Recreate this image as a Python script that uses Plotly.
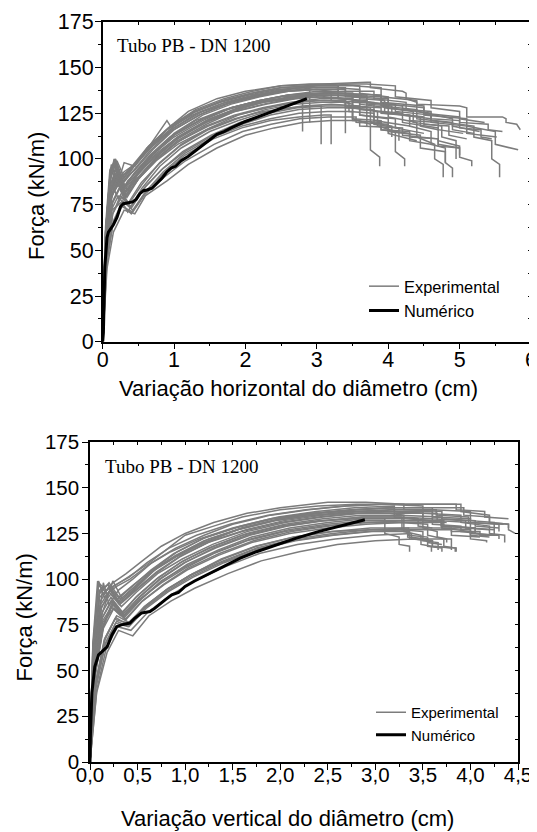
import plotly.graph_objects as go

# ---------------- data: top panel (horizontal diameter change) ----------------
TOP_NUM_X = [0, 0.01, 0.03, 0.06, 0.08, 0.12, 0.15, 0.2, 0.25, 0.29, 0.35, 0.42, 0.47, 0.52, 0.57, 0.62, 0.69, 0.76, 0.83, 0.9, 0.96, 1.02, 1.1, 1.2, 1.3, 1.4, 1.5, 1.6, 1.7, 1.8, 2.0, 2.2, 2.4, 2.6, 2.86]
TOP_NUM_Y = [0, 5, 41, 57, 60, 62, 64, 68, 74, 75.5, 76, 76.5, 78, 81, 82.6, 83, 84, 86.5, 89.5, 93, 95, 96, 99, 101.5, 104.5, 108, 111, 113.5, 115, 117, 120.5, 123.5, 126.5, 129.5, 133]

T1_X = [0, 0.04, 0.1, 0.16, 0.25, 0.4, 0.6, 0.9, 0.95, 1.2, 1.6, 2.0, 2.5, 3.0, 3.5, 3.7, 3.75, 3.75, 4.2, 4.25, 4.25, 4.4, 4.4, 5.0, 5.1, 5.1, 5.6, 5.65, 5.65, 5.8, 5.85]
T1_Y = [0, 55, 88, 100, 90, 95, 104, 121, 118, 126, 133, 137, 140, 141, 142, 142, 142, 139, 137, 136, 133, 131, 130, 129, 128, 123, 123, 122, 120, 119, 116]
T2_X = [0, 0.05, 0.12, 0.2, 0.3, 0.45, 0.7, 1.0, 1.3, 1.7, 2.1, 2.5, 2.9, 3.3, 3.3, 3.9, 3.9, 4.5, 4.5, 5.1, 5.1, 5.5, 5.5, 5.82]
T2_Y = [0, 62, 95, 85, 98, 96, 108, 118, 126, 132, 136, 139, 140, 140, 136, 135, 131, 129, 124, 122, 118, 115, 108, 105]
T3_X = [0, 0.03, 0.1, 0.18, 0.3, 0.45, 0.7, 1.0, 1.4, 1.8, 2.2, 2.6, 3.0, 3.4, 3.4, 4.0, 4.0, 4.6, 4.6, 5.2, 5.2, 5.45, 5.45, 5.56, 5.56]
T3_Y = [0, 50, 80, 96, 80, 90, 102, 114, 124, 130, 134, 137, 138, 138, 134, 133, 128, 125, 121, 118, 112, 110, 100, 97, 90]
T4_X = [0, 0.05, 0.13, 0.22, 0.35, 0.5, 0.75, 1.0, 1.4, 1.8, 2.2, 2.6, 3.0, 3.3, 3.3, 3.8, 3.8, 4.3, 4.3, 4.6, 4.6, 4.8, 4.8, 4.9, 4.9]
T4_Y = [0, 58, 86, 78, 88, 94, 104, 112, 121, 128, 132, 135, 137, 137, 133, 131, 126, 124, 118, 115, 108, 106, 98, 95, 90]
T5_X = [0, 0.04, 0.1, 0.2, 0.3, 0.5, 0.8, 1.1, 1.5, 1.9, 2.3, 2.7, 3.1, 3.6, 3.6, 4.0, 4.0, 4.4, 4.4, 4.65, 4.65, 4.77, 4.77]
T5_Y = [0, 52, 75, 92, 82, 90, 103, 113, 122, 128, 132, 134, 135, 134, 130, 128, 123, 120, 112, 108, 100, 97, 90]
T6_X = [0, 0.05, 0.12, 0.2, 0.3, 0.45, 0.7, 1.0, 1.4, 1.8, 2.2, 2.6, 3.0, 3.2, 3.2, 3.5, 3.5, 3.75, 3.75, 3.88, 3.88]
T6_Y = [0, 65, 97, 88, 93, 97, 107, 117, 126, 131, 135, 137, 138, 137, 132, 130, 122, 119, 105, 101, 96]
T7_X = [0, 0.04, 0.11, 0.2, 0.32, 0.5, 0.75, 1.05, 1.45, 1.85, 2.3, 2.7, 3.1, 3.5, 3.5, 3.85, 3.85, 4.1, 4.1, 4.23, 4.23]
T7_Y = [0, 55, 82, 90, 80, 92, 103, 112, 120, 126, 130, 133, 134, 133, 128, 126, 118, 115, 104, 100, 96]
T8_X = [0, 0.05, 0.14, 0.24, 0.36, 0.55, 0.8, 1.1, 1.5, 1.9, 2.3, 2.7, 3.1, 3.6, 3.6, 4.2, 4.2, 4.7, 4.7, 5.0, 5.0, 5.17, 5.17]
T8_Y = [0, 48, 76, 84, 75, 86, 98, 108, 117, 124, 128, 131, 132, 131, 127, 125, 120, 117, 110, 107, 101, 99, 96]
T9_X = [0, 0.04, 0.1, 0.18, 0.28, 0.45, 0.7, 1.0, 1.4, 1.8, 2.2, 2.6, 3.0, 3.5, 3.9, 3.9, 4.4, 4.4, 4.9, 4.9, 5.28]
T9_Y = [0, 60, 90, 99, 88, 94, 105, 116, 125, 131, 135, 138, 140, 140, 139, 134, 132, 126, 122, 118, 115]
T10_X = [0, 0.05, 0.12, 0.2, 0.3, 0.5, 0.75, 1.05, 1.45, 1.85, 2.25, 2.65, 3.05, 3.5, 3.5, 4.1, 4.1, 4.6, 4.6, 5.1, 5.1, 5.52]
T10_Y = [0, 50, 78, 88, 78, 89, 100, 110, 119, 126, 130, 133, 135, 135, 131, 130, 126, 124, 120, 118, 114, 112]
T11_X = [0, 0.04, 0.12, 0.22, 0.35, 0.55, 0.8, 1.1, 1.5, 1.9, 2.3, 2.8, 3.2, 3.6, 3.6, 4.0, 4.0, 4.4]
T11_Y = [0, 45, 72, 80, 71, 84, 96, 106, 115, 121, 126, 129, 130, 129, 124, 122, 114, 110]
T12_X = [0, 0.05, 0.13, 0.25, 0.4, 0.6, 0.85, 1.15, 1.55, 1.95, 2.35, 2.75, 3.1, 3.2, 3.2]
T12_Y = [0, 50, 72, 76, 70, 82, 92, 102, 111, 117, 121, 123, 124, 124, 108]
T13_X = [0, 0.06, 0.15, 0.3, 0.45, 0.6, 0.9, 1.2, 1.6, 2.0, 2.4, 2.8, 3.2, 3.6, 3.6, 4.2, 4.2, 4.7, 4.7, 5.0]
T13_Y = [0, 40, 60, 72, 70, 80, 88, 97, 106, 113, 117, 120, 121, 121, 118, 117, 113, 111, 108, 106]
T14_X = [0, 0.04, 0.1, 0.17, 0.27, 0.42, 0.65, 0.95, 1.35, 1.75, 2.15, 2.55, 2.95, 3.4, 3.4, 3.9, 3.9, 4.4, 4.4, 4.9, 4.9, 5.2]
T14_Y = [0, 58, 88, 97, 86, 93, 104, 115, 124, 130, 134, 137, 139, 139, 135, 134, 129, 127, 122, 120, 116, 114]
T15_X = [0, 0.05, 0.12, 0.2, 0.32, 0.5, 0.75, 1.05, 1.45, 1.85, 2.25, 2.7, 3.1, 3.5, 3.5, 3.95, 3.95, 4.45, 4.45, 4.7]
T15_Y = [0, 52, 80, 87, 79, 90, 101, 111, 120, 127, 131, 134, 136, 136, 132, 130, 125, 123, 118, 116]
T16_X = [0, 0.04, 0.1, 0.18, 0.3, 0.48, 0.72, 1.0, 1.4, 1.8, 2.2, 2.6, 3.0, 3.3, 3.7, 3.7, 4.2, 4.2, 4.6]
T16_Y = [0, 56, 85, 94, 84, 92, 103, 113, 122, 128, 132, 135, 136, 136, 135, 131, 129, 124, 122]
T17_X = [0, 0.05, 0.14, 0.25, 0.4, 0.6, 0.85, 1.15, 1.55, 1.95, 2.35, 2.75, 3.15, 3.6, 3.6, 4.1, 4.1, 4.5]
T17_Y = [0, 46, 70, 80, 73, 85, 95, 104, 113, 119, 124, 127, 128, 128, 124, 122, 117, 114]
T18_X = [0, 0.05, 0.12, 0.2, 0.3, 0.45, 0.68, 0.95, 1.3, 1.7, 2.1, 2.5, 2.9, 3.3, 3.6, 3.6, 4.0, 4.0, 4.5, 4.5, 5.0, 5.0, 5.4, 5.4, 5.6]
T18_Y = [0, 62, 92, 99, 90, 97, 108, 118, 127, 133, 137, 140, 141, 141, 140, 136, 134, 130, 128, 125, 123, 120, 119, 116, 115]
T19_X = [0, 0.04, 0.1, 0.2, 0.3, 0.5, 0.75, 1.05, 1.45, 1.85, 2.25, 2.65, 3.0, 3.4, 3.4, 3.8, 3.8, 4.3]
T19_Y = [0, 54, 84, 90, 83, 92, 102, 112, 121, 127, 131, 133, 134, 133, 128, 127, 121, 118]
T20_X = [0, 0.06, 0.15, 0.28, 0.42, 0.6, 0.85, 1.15, 1.55, 1.95, 2.35, 2.75, 3.15, 3.5, 3.5, 3.9, 3.9, 4.3, 4.3, 4.6]
T20_Y = [0, 44, 66, 77, 72, 82, 93, 103, 112, 118, 122, 125, 126, 126, 122, 121, 116, 114, 110, 108]
T21_X = [0, 0.05, 0.12, 0.22, 0.35, 0.52, 0.78, 1.08, 1.48, 1.88, 2.28, 2.68, 3.0, 3.4, 3.4]
T21_Y = [0, 58, 84, 92, 83, 91, 101, 110, 118, 124, 128, 131, 132, 132, 114]
T22_X = [0, 0.04, 0.1, 0.18, 0.28, 0.42, 0.62, 0.9, 1.25, 1.65, 2.05, 2.45, 2.9, 2.9]
T22_Y = [0, 60, 88, 98, 87, 95, 106, 116, 124, 130, 134, 137, 138, 120]
T23_X = [0, 0.05, 0.13, 0.22, 0.34, 0.5, 0.75, 1.05, 1.45, 1.85, 2.25, 2.65, 3.0, 3.06, 3.06]
T23_Y = [0, 54, 80, 86, 79, 89, 99, 108, 116, 122, 126, 128, 129, 129, 108]
T24_X = [0, 0.04, 0.11, 0.2, 0.3, 0.46, 0.7, 1.0, 1.4, 1.8, 2.2, 2.6, 2.95, 3.3, 3.5, 3.5, 3.9, 3.9, 4.3, 4.3, 4.7, 4.7, 5.0, 5.0]
T24_Y = [0, 57, 86, 93, 85, 93, 103, 113, 122, 128, 132, 135, 136, 136, 136, 121, 120, 116, 115, 112, 111, 107, 106, 102]
T25_X = [0, 0.05, 0.11, 0.19, 0.29, 0.44, 0.66, 0.94, 1.3, 1.7, 2.1, 2.5, 2.9, 3.3, 3.7, 3.7, 4.05, 4.05, 4.5, 4.5, 4.85, 4.85, 5.1]
T25_Y = [0, 56, 83, 91, 84, 92, 102, 112, 121, 127, 131, 134, 135, 135, 134, 130, 129, 125, 123, 119, 118, 113, 111]
T26_X = [0, 0.04, 0.1, 0.16, 0.26, 0.4, 0.62, 0.9, 1.25, 1.65, 2.05, 2.45, 2.85, 3.25, 3.6, 3.6, 3.95, 3.95, 4.35, 4.35, 4.75, 4.75, 4.95, 4.95]
T26_Y = [0, 60, 90, 97, 88, 95, 105, 116, 125, 131, 135, 138, 139, 139, 138, 133, 132, 128, 126, 120, 118, 112, 110, 100]
T27_X = [0, 0.05, 0.13, 0.23, 0.36, 0.54, 0.78, 1.08, 1.48, 1.88, 2.28, 2.68, 3.08, 3.45, 3.45, 3.8, 3.8, 4.15, 4.15]
T27_Y = [0, 50, 76, 84, 76, 87, 97, 107, 116, 122, 127, 130, 131, 131, 126, 125, 119, 117, 110]
T28_X = [0, 0.04, 0.1, 0.18, 0.27, 0.43, 0.64, 0.92, 1.28, 1.68, 2.08, 2.48, 2.88, 3.3, 3.3, 3.7, 3.7]
T28_Y = [0, 63, 94, 100, 90, 97, 107, 117, 126, 132, 136, 139, 140, 140, 133, 132, 118]
T29_X = [0, 0.06, 0.14, 0.26, 0.4, 0.58, 0.82, 1.12, 1.52, 1.92, 2.32, 2.72, 3.12, 3.5, 3.9, 3.9, 4.3, 4.3, 4.7, 4.7, 5.05]
T29_Y = [0, 46, 70, 79, 74, 84, 94, 104, 113, 120, 125, 128, 129, 129, 128, 125, 124, 121, 120, 116, 114]
T30_X = [0, 0.05, 0.12, 0.21, 0.32, 0.48, 0.72, 1.02, 1.42, 1.82, 2.22, 2.62, 3.02, 3.4, 3.8, 3.8, 4.25, 4.25, 4.6, 4.6, 5.0, 5.0, 5.3, 5.3, 5.45]
T30_Y = [0, 54, 82, 90, 82, 91, 101, 111, 120, 126, 131, 134, 136, 137, 137, 133, 131, 127, 126, 122, 121, 117, 116, 112, 111]
T31_X = [0, 0.05, 0.12, 0.2, 0.31, 0.47, 0.7, 0.98, 1.35, 1.75, 2.15, 2.55, 2.8, 2.8]
T31_Y = [0, 55, 84, 94, 85, 93, 103, 113, 121, 127, 131, 133, 134, 115]
T32_X = [0, 0.05, 0.14, 0.27, 0.42, 0.6, 0.86, 1.16, 1.56, 1.96, 2.36, 2.76, 3.16, 3.55, 3.55, 4.0, 4.0, 4.45, 4.45, 4.8, 4.8]
T32_Y = [0, 42, 64, 74, 71, 81, 90, 99, 108, 115, 119, 122, 123, 123, 120, 119, 115, 113, 106, 104, 98]
T33_X = [0, 0.04, 0.1, 0.17, 0.28, 0.44, 0.66, 0.96, 1.32, 1.72, 2.12, 2.52, 2.92, 3.3, 3.7, 4.1, 4.1, 4.6, 4.6, 5.0, 5.0, 5.35]
T33_Y = [0, 59, 89, 98, 89, 96, 106, 116, 125, 131, 135, 138, 140, 141, 141, 140, 134, 132, 128, 126, 122, 120]
T34_X = [0, 0.05, 0.12, 0.22, 0.33, 0.5, 0.74, 1.04, 1.44, 1.84, 2.24, 2.64, 3.04, 3.4, 3.4, 3.75, 3.75, 4.05, 4.05]
T34_Y = [0, 51, 79, 87, 80, 89, 99, 109, 118, 124, 128, 131, 133, 133, 129, 128, 120, 118, 112]

# ---------------- data: bottom panel (vertical diameter change) ----------------
BOT_NUM_X = [0, 0.005, 0.02, 0.05, 0.09, 0.14, 0.18, 0.23, 0.28, 0.33, 0.42, 0.47, 0.54, 0.63, 0.68, 0.79, 0.86, 0.93, 1.0, 1.1, 1.23, 1.4, 1.58, 1.75, 1.96, 2.17, 2.4, 2.65, 2.89]
BOT_NUM_Y = [0, 16, 38, 52, 58.6, 61.3, 63, 69.5, 74, 75, 76, 78.6, 81.4, 82.3, 84, 88.7, 91.4, 92.7, 96, 99, 102.4, 107, 111.5, 115, 118.8, 122.4, 126, 129.5, 132.5]

B1_X = [0, 0.03, 0.09, 0.15, 0.25, 0.4, 0.6, 0.8, 1.0, 1.3, 1.6, 2.0, 2.4, 2.8, 3.2, 3.6, 3.9, 3.9, 4.2, 4.2, 4.4, 4.4, 4.47]
B1_Y = [0, 60, 99, 90, 96, 101, 108, 116, 124, 129, 134, 138, 140, 141, 141, 141, 141, 137, 135, 131, 130, 127, 125]
B2_X = [0, 0.04, 0.14, 0.2, 0.3, 0.45, 0.65, 0.9, 1.2, 1.5, 1.9, 2.3, 2.7, 3.1, 3.5, 3.5, 3.9, 3.9, 4.2, 4.2, 4.36, 4.36]
B2_Y = [0, 55, 98, 86, 94, 100, 109, 117, 124, 130, 135, 138, 140, 141, 140, 136, 135, 131, 129, 125, 124, 120]
B3_X = [0, 0.05, 0.12, 0.24, 0.35, 0.5, 0.7, 0.95, 1.25, 1.6, 2.0, 2.4, 2.8, 3.2, 3.6, 3.6, 4.0, 4.0, 4.35]
B3_Y = [0, 50, 80, 99, 88, 96, 106, 114, 121, 128, 133, 136, 138, 139, 139, 134, 133, 131, 130]
B4_X = [0, 0.05, 0.14, 0.22, 0.32, 0.48, 0.7, 0.95, 1.25, 1.6, 2.0, 2.4, 2.8, 3.1, 3.1, 3.25, 3.25, 3.36, 3.36]
B4_Y = [0, 45, 75, 85, 80, 90, 100, 109, 117, 124, 129, 132, 133, 133, 125, 123, 119, 118, 115]
B5_X = [0, 0.04, 0.1, 0.2, 0.3, 0.45, 0.65, 0.9, 1.2, 1.55, 1.95, 2.35, 2.75, 3.15, 3.3, 3.3, 3.48, 3.48, 3.59, 3.59]
B5_Y = [0, 58, 90, 95, 87, 94, 104, 112, 120, 127, 132, 135, 136, 136, 135, 126, 124, 119, 118, 115]
B6_X = [0, 0.05, 0.12, 0.24, 0.36, 0.52, 0.75, 1.0, 1.3, 1.65, 2.05, 2.45, 2.85, 3.25, 3.55, 3.55, 3.72, 3.72, 3.84, 3.84]
B6_Y = [0, 48, 72, 88, 80, 89, 98, 106, 114, 121, 126, 129, 131, 131, 130, 124, 122, 118, 117, 115]
B7_X = [0, 0.03, 0.09, 0.18, 0.28, 0.42, 0.62, 0.85, 1.15, 1.5, 1.9, 2.3, 2.7, 3.1, 3.5, 3.5, 3.65, 3.65, 3.75, 3.75]
B7_Y = [0, 62, 97, 92, 96, 100, 108, 115, 122, 128, 133, 136, 137, 137, 136, 128, 126, 123, 122, 120]
B8_X = [0, 0.05, 0.13, 0.22, 0.34, 0.5, 0.72, 0.98, 1.3, 1.65, 2.05, 2.45, 2.85, 3.25, 3.7, 3.7, 4.0, 4.0, 4.17, 4.17]
B8_Y = [0, 52, 82, 90, 82, 91, 101, 110, 118, 125, 130, 133, 135, 135, 134, 128, 126, 122, 121, 120]
B9_X = [0, 0.06, 0.15, 0.26, 0.4, 0.58, 0.8, 1.05, 1.4, 1.75, 2.15, 2.55, 2.95, 3.35, 3.8, 3.8, 4.1, 4.1, 4.3, 4.3]
B9_Y = [0, 42, 66, 78, 76, 85, 94, 102, 110, 117, 122, 125, 127, 128, 128, 126, 126, 124, 124, 122]
B10_X = [0, 0.07, 0.18, 0.3, 0.45, 0.62, 0.85, 1.1, 1.45, 1.8, 2.2, 2.6, 3.0, 3.4, 3.8, 3.8]
B10_Y = [0, 38, 60, 72, 69, 80, 88, 95, 103, 110, 115, 119, 121, 122, 122, 116]
B11_X = [0, 0.04, 0.11, 0.2, 0.3, 0.45, 0.66, 0.9, 1.2, 1.55, 1.95, 2.35, 2.75, 3.15, 3.6, 4.0, 4.0, 4.25, 4.25]
B11_Y = [0, 56, 88, 96, 88, 95, 105, 113, 121, 127, 132, 135, 137, 138, 138, 137, 132, 131, 127]
B12_X = [0, 0.05, 0.13, 0.25, 0.38, 0.55, 0.78, 1.02, 1.35, 1.7, 2.1, 2.5, 2.9, 3.3, 3.7, 3.7, 4.0, 4.0, 4.3]
B12_Y = [0, 50, 76, 84, 78, 88, 97, 105, 113, 120, 125, 128, 130, 131, 131, 128, 127, 125, 124]
B13_X = [0, 0.04, 0.1, 0.2, 0.32, 0.48, 0.7, 0.95, 1.25, 1.6, 2.0, 2.4, 2.8, 3.2, 3.2, 3.45, 3.45, 3.6]
B13_Y = [0, 58, 92, 98, 89, 96, 106, 114, 122, 128, 133, 136, 138, 139, 134, 133, 129, 128]
B14_X = [0, 0.05, 0.12, 0.22, 0.35, 0.52, 0.74, 1.0, 1.3, 1.65, 2.05, 2.45, 2.85, 3.25, 3.6, 3.6, 3.9, 3.9, 4.1]
B14_Y = [0, 50, 78, 88, 80, 90, 100, 109, 117, 124, 129, 132, 134, 134, 133, 130, 129, 126, 125]
B15_X = [0, 0.06, 0.16, 0.28, 0.42, 0.6, 0.82, 1.08, 1.4, 1.75, 2.15, 2.55, 2.95, 3.35, 3.35, 3.55, 3.55, 3.7]
B15_Y = [0, 44, 68, 80, 76, 86, 95, 103, 111, 118, 123, 126, 128, 128, 124, 123, 120, 119]
B16_X = [0, 0.03, 0.08, 0.14, 0.24, 0.38, 0.55, 0.75, 1.0, 1.3, 1.65, 2.0, 2.5, 2.9, 3.3, 3.3, 3.7, 3.7, 4.05, 4.05, 4.3]
B16_Y = [0, 65, 99, 92, 98, 103, 110, 118, 125, 131, 136, 139, 142, 142, 141, 138, 137, 133, 132, 129, 128]
B17_X = [0, 0.05, 0.14, 0.24, 0.36, 0.54, 0.76, 1.02, 1.35, 1.7, 2.1, 2.5, 2.9, 3.3, 3.7, 3.7, 4.0, 4.0, 4.2]
B17_Y = [0, 48, 74, 86, 79, 89, 99, 108, 116, 123, 128, 131, 133, 133, 132, 129, 128, 124, 123]
B18_X = [0, 0.04, 0.1, 0.19, 0.3, 0.46, 0.68, 0.92, 1.22, 1.58, 1.98, 2.38, 2.78, 3.2, 3.2, 3.5, 3.5, 3.75]
B18_Y = [0, 60, 94, 97, 90, 97, 106, 115, 123, 129, 134, 137, 139, 140, 137, 136, 132, 131]
B19_X = [0, 0.06, 0.16, 0.27, 0.4, 0.57, 0.8, 1.05, 1.38, 1.72, 2.12, 2.52, 2.92, 3.32, 3.8, 3.8, 4.1]
B19_Y = [0, 40, 64, 76, 74, 84, 93, 101, 109, 116, 121, 124, 126, 127, 127, 124, 123]
B20_X = [0, 0.05, 0.12, 0.2, 0.31, 0.47, 0.69, 0.94, 1.24, 1.6, 2.0, 2.4, 2.8, 3.2, 3.6, 3.6, 3.95, 3.95, 4.2]
B20_Y = [0, 54, 84, 93, 86, 93, 103, 112, 120, 126, 131, 134, 136, 137, 137, 133, 132, 128, 127]
B21_X = [0, 0.04, 0.11, 0.21, 0.32, 0.48, 0.7, 0.96, 1.28, 1.64, 2.04, 2.44, 2.84, 3.24, 3.64, 3.64, 3.98, 3.98, 4.3, 4.3]
B21_Y = [0, 55, 86, 94, 87, 94, 104, 113, 121, 127, 132, 135, 137, 138, 138, 135, 134, 131, 130, 126]
B22_X = [0, 0.06, 0.15, 0.27, 0.4, 0.57, 0.8, 1.05, 1.38, 1.74, 2.14, 2.54, 2.94, 3.34, 3.34, 3.55, 3.55, 3.7, 3.7]
B22_Y = [0, 43, 67, 79, 75, 85, 94, 102, 111, 118, 123, 126, 127, 127, 123, 122, 118, 117, 115]
B23_X = [0, 0.03, 0.09, 0.17, 0.27, 0.41, 0.6, 0.83, 1.12, 1.47, 1.87, 2.27, 2.67, 3.07, 3.47, 3.85, 3.85, 4.15, 4.15, 4.4]
B23_Y = [0, 63, 98, 94, 97, 101, 109, 117, 124, 130, 135, 138, 140, 141, 141, 141, 138, 137, 134, 133]
B24_X = [0, 0.05, 0.13, 0.23, 0.35, 0.51, 0.73, 0.99, 1.32, 1.68, 2.08, 2.48, 2.88, 3.28, 3.28, 3.5, 3.5, 3.66, 3.66]
B24_Y = [0, 51, 79, 88, 81, 90, 100, 109, 117, 124, 129, 132, 134, 134, 127, 126, 121, 120, 116]
B25_X = [0, 0.05, 0.14, 0.25, 0.37, 0.55, 0.77, 1.03, 1.36, 1.72, 2.12, 2.52, 2.92, 3.32, 3.72, 3.72, 4.05, 4.05, 4.25]
B25_Y = [0, 47, 73, 84, 78, 88, 97, 106, 114, 121, 126, 129, 131, 132, 132, 129, 128, 125, 124]
B26_X = [0, 0.04, 0.12, 0.22, 0.33, 0.49, 0.71, 0.97, 1.29, 1.65, 2.05, 2.45, 2.85, 3.25, 3.65, 3.65, 4.0, 4.0, 4.25, 4.25]
B26_Y = [0, 53, 85, 92, 85, 93, 103, 111, 119, 126, 131, 134, 136, 136, 136, 132, 131, 128, 127, 124]
B27_X = [0, 0.07, 0.17, 0.29, 0.43, 0.61, 0.84, 1.1, 1.43, 1.78, 2.18, 2.58, 2.98, 3.38, 3.38, 3.6, 3.6, 3.8]
B27_Y = [0, 39, 62, 74, 72, 82, 91, 99, 107, 114, 119, 122, 124, 125, 122, 121, 118, 117]
B28_X = [0, 0.04, 0.1, 0.19, 0.29, 0.44, 0.64, 0.88, 1.18, 1.53, 1.93, 2.33, 2.73, 3.13, 3.53, 3.93, 3.93, 4.2, 4.2, 4.4, 4.4]
B28_Y = [0, 59, 93, 97, 89, 96, 105, 114, 122, 128, 133, 136, 138, 139, 139, 139, 135, 134, 131, 130, 128]
B29_X = [0, 0.05, 0.13, 0.24, 0.36, 0.53, 0.75, 1.01, 1.33, 1.69, 2.09, 2.49, 2.89, 3.29, 3.69, 3.69, 4.05, 4.05]
B29_Y = [0, 49, 77, 86, 80, 89, 99, 107, 115, 122, 127, 130, 132, 132, 132, 129, 128, 125]
B30_X = [0, 0.06, 0.16, 0.28, 0.41, 0.59, 0.82, 1.08, 1.41, 1.76, 2.16, 2.56, 2.96, 3.36, 3.36, 3.6, 3.6, 3.85, 3.85]
B30_Y = [0, 41, 65, 77, 74, 84, 93, 101, 109, 116, 121, 124, 126, 126, 122, 121, 118, 117, 115]

TOP_EXP = [(T1_X, T1_Y), (T2_X, T2_Y), (T3_X, T3_Y), (T4_X, T4_Y), (T5_X, T5_Y), (T6_X, T6_Y),
           (T7_X, T7_Y), (T8_X, T8_Y), (T9_X, T9_Y), (T10_X, T10_Y), (T11_X, T11_Y), (T12_X, T12_Y),
           (T13_X, T13_Y), (T14_X, T14_Y), (T15_X, T15_Y), (T16_X, T16_Y), (T17_X, T17_Y), (T18_X, T18_Y),
           (T19_X, T19_Y), (T20_X, T20_Y), (T21_X, T21_Y), (T22_X, T22_Y), (T23_X, T23_Y), (T24_X, T24_Y),
           (T25_X, T25_Y), (T26_X, T26_Y), (T27_X, T27_Y), (T28_X, T28_Y), (T29_X, T29_Y), (T30_X, T30_Y),
           (T31_X, T31_Y), (T32_X, T32_Y), (T33_X, T33_Y), (T34_X, T34_Y)]
BOT_EXP = [(B1_X, B1_Y), (B2_X, B2_Y), (B3_X, B3_Y), (B4_X, B4_Y), (B5_X, B5_Y), (B6_X, B6_Y),
           (B7_X, B7_Y), (B8_X, B8_Y), (B9_X, B9_Y), (B10_X, B10_Y), (B11_X, B11_Y), (B12_X, B12_Y),
           (B13_X, B13_Y), (B14_X, B14_Y), (B15_X, B15_Y), (B16_X, B16_Y), (B17_X, B17_Y), (B18_X, B18_Y),
           (B19_X, B19_Y), (B20_X, B20_Y), (B21_X, B21_Y), (B22_X, B22_Y), (B23_X, B23_Y), (B24_X, B24_Y),
           (B25_X, B25_Y), (B26_X, B26_Y), (B27_X, B27_Y), (B28_X, B28_Y), (B29_X, B29_Y), (B30_X, B30_Y)]

LABEL_EXP = "Experimental"
LABEL_NUM = "Numérico"
PANEL_NOTE = "Tubo PB - DN 1200"
Y_TITLE = "Força (kN/m)"
X_TITLE_TOP = "Variação horizontal do diâmetro (cm)"
X_TITLE_BOT = "Variação vertical do diâmetro (cm)"

# ---------------- layout helpers ----------------
# The page body has an 8px default margin, so the figure is offset by 8px;
# positions below are given in window pixels and converted to paper fractions.
OFF = 8
W, H = 537 - OFF, 832 - OFF
def fx(p):
    return (p - OFF) / W
def fy(p):
    return 1 - (p - OFF) / H

SANS = "Liberation Sans, Arial, sans-serif"
SERIF = "Liberation Serif, Times New Roman, serif"
GRAY = "#7c7c7c"

fig = go.Figure()

for i, (xs, ys) in enumerate(TOP_EXP):
    fig.add_trace(go.Scatter(x=xs, y=ys, mode="lines", line=dict(color=GRAY, width=1.5),
                             name=LABEL_EXP, showlegend=(i == 0), legend="legend",
                             xaxis="x", yaxis="y", hoverinfo="skip"))
fig.add_trace(go.Scatter(x=TOP_NUM_X, y=TOP_NUM_Y, mode="lines", line=dict(color="black", width=3),
                         name=LABEL_NUM, legend="legend", xaxis="x", yaxis="y"))

for i, (xs, ys) in enumerate(BOT_EXP):
    fig.add_trace(go.Scatter(x=xs, y=ys, mode="lines", line=dict(color=GRAY, width=1.5),
                             name=LABEL_EXP, showlegend=(i == 0), legend="legend2",
                             xaxis="x2", yaxis="y2", hoverinfo="skip"))
fig.add_trace(go.Scatter(x=BOT_NUM_X, y=BOT_NUM_Y, mode="lines", line=dict(color="black", width=3),
                         name=LABEL_NUM, legend="legend2", xaxis="x2", yaxis="y2"))

# empty traces so the mirrored (top / right) tick axes get drawn
for xa, ya in [("x3", "y"), ("x", "y3"), ("x4", "y2"), ("x2", "y4")]:
    fig.add_trace(go.Scatter(x=[], y=[], xaxis=xa, yaxis=ya, showlegend=False, hoverinfo="skip"))

def main_axis(domain, rng, dtick, minor, anchor, size, standoff, fmt=None):
    d = dict(domain=domain, range=rng, dtick=dtick, tick0=0, ticks="outside", ticklen=6,
             tickwidth=1.3, tickcolor="black",
             minor=dict(dtick=minor, ticks="outside", ticklen=3, tickwidth=1.2, tickcolor="black"),
             showline=True, linecolor="black", linewidth=1.5, showgrid=False, zeroline=False,
             tickfont=dict(family=SANS, size=size, color="black"), anchor=anchor,
             ticklabelstandoff=standoff, ticklabeloverflow="allow",
             automargin=False, fixedrange=True)
    if fmt:
        d["tickformat"] = fmt
    return d

def mirror_axis(over, anchor, side, rng, dtick):
    return dict(overlaying=over, anchor=anchor, side=side, range=rng, dtick=dtick, tick0=0,
                ticks="inside", ticklen=3, tickwidth=1.2, tickcolor="black", showticklabels=False,
                showline=True, linecolor="black", linewidth=1.5, showgrid=False, zeroline=False,
                automargin=False, fixedrange=True)

top_dx = [fx(102.7), fx(531)]
top_dy = [fy(341.7), fy(21.9)]
bot_dx = [fx(90), fx(518)]
bot_dy = [fy(762), fy(442)]

fig.update_layout(
    width=W, height=H, autosize=False,
    margin=dict(l=0, r=0, t=0, b=0, pad=0),
    paper_bgcolor="white", plot_bgcolor="white",
    separators=",.",
    xaxis=main_axis(top_dx, [0, 6], 1, 0.5, "y", 21.5, -8),
    yaxis=main_axis(top_dy, [0, 175], 25, 12.5, "x", 21.5, -3),
    xaxis2=main_axis(bot_dx, [0, 4.5], 0.5, 0.25, "y2", 20.5, -12, ".1f"),
    yaxis2=main_axis(bot_dy, [0, 175], 25, 12.5, "x2", 20.5, -1),
    xaxis3=mirror_axis("x", "y", "top", [0, 6], 0.5),
    yaxis3=mirror_axis("y", "x", "right", [0, 175], 12.5),
    xaxis4=mirror_axis("x2", "y2", "top", [0, 4.5], 0.25),
    yaxis4=mirror_axis("y2", "x2", "right", [0, 175], 12.5),
    legend=dict(x=fx(364), y=fy(269), xanchor="left", yanchor="top", bgcolor="rgba(0,0,0,0)",
                borderwidth=0, font=dict(family=SANS, size=16.4, color="black"), tracegroupgap=0),
    legend2=dict(x=fx(371), y=fy(696), xanchor="left", yanchor="top", bgcolor="rgba(0,0,0,0)",
                 borderwidth=0, font=dict(family=SANS, size=15, color="black"), tracegroupgap=0),
    showlegend=True,
    annotations=[
        dict(text=PANEL_NOTE, x=fx(115), y=fy(45), xref="paper", yref="paper", xanchor="left",
             yanchor="middle", showarrow=False, font=dict(family=SERIF, size=19, color="black")),
        dict(text=PANEL_NOTE, x=fx(103), y=fy(466.5), xref="paper", yref="paper", xanchor="left",
             yanchor="middle", showarrow=False, font=dict(family=SERIF, size=19, color="black")),
        dict(text=Y_TITLE, x=fx(36), y=fy(196), xref="paper", yref="paper", textangle=-90,
             xanchor="center", yanchor="middle", showarrow=False,
             font=dict(family=SANS, size=22, color="black")),
        dict(text=X_TITLE_TOP, x=fx(298), y=fy(389), xref="paper", yref="paper",
             xanchor="center", yanchor="middle", showarrow=False,
             font=dict(family=SANS, size=22, color="black")),
        dict(text=Y_TITLE, x=fx(24), y=fy(617.5), xref="paper", yref="paper", textangle=-90,
             xanchor="center", yanchor="middle", showarrow=False,
             font=dict(family=SANS, size=22, color="black")),
        dict(text=X_TITLE_BOT, x=fx(287), y=fy(818.3), xref="paper", yref="paper",
             xanchor="center", yanchor="middle", showarrow=False,
             font=dict(family=SANS, size=22, color="black")),
    ],
)

fig.write_html("out.html")
